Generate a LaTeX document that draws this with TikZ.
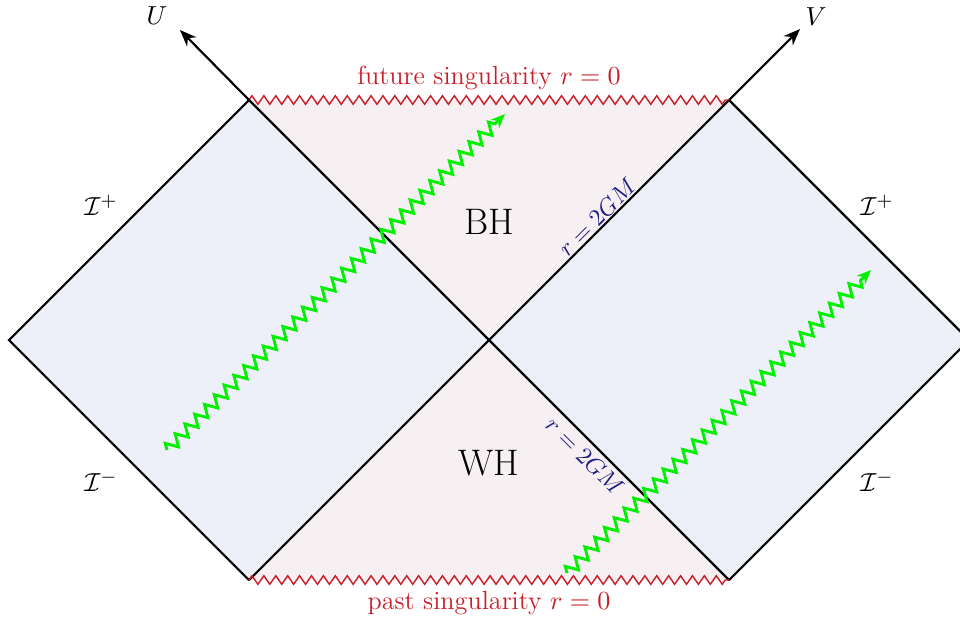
\documentclass[tikz,border=0pt]{standalone}
\usetikzlibrary{decorations.pathmorphing,arrows.meta}
\definecolor{extcol}{RGB}{238,240,249}
\definecolor{bhcol}{RGB}{246,240,242}
\definecolor{singcol}{RGB}{200,30,40}
\definecolor{horcol}{RGB}{30,30,130}
\definecolor{raycol}{RGB}{0,240,0}
\tikzset{
  edge/.style={draw=black, line width=0.9pt},
  sing/.style={draw=singcol, line width=0.6pt, decorate, decoration={zigzag, segment length=5pt, amplitude=1.8pt}},
  ray/.style={draw=raycol, line width=1.2pt, decorate, decoration={zigzag, segment length=5.8pt, amplitude=2.5pt, post length=5pt}, -{Stealth[length=6pt,width=5pt]}},
  axis/.style={draw=black, line width=0.9pt, -{Stealth[length=7pt,width=5.5pt]}},
  lab/.style={font=\fontsize{11}{13}\selectfont},
}
\begin{document}
\begin{tikzpicture}[x=0.42pt,y=-0.42pt]
\useasboundingbox (0,0) rectangle (960,620);
\coordinate (C) at (489,340);
\coordinate (L) at (9,340);
\coordinate (R) at (969,340);
\coordinate (TL) at (249,100);
\coordinate (TR) at (729,100);
\coordinate (BL) at (249,580);
\coordinate (BR) at (729,580);
\coordinate (Uend) at (180,30);
\coordinate (Vend) at (800,29);
\coordinate (g1s) at (167,450);
\coordinate (g1e) at (505,114);
\coordinate (g2s) at (567,573);
\coordinate (g2e) at (871,270);
% fills
\fill[extcol] (L) -- (TL) -- (C) -- (BL) -- cycle;
\fill[extcol] (C) -- (TR) -- (R) -- (BR) -- cycle;
\fill[bhcol] (TL) -- (TR) -- (C) -- cycle;
\fill[bhcol] (BL) -- (BR) -- (C) -- cycle;
% edges
\draw[edge] (BL) -- (L) -- (TL);
\draw[edge] (TR) -- (R) -- (BR);
\draw[edge] (TL) -- (BR);
\draw[edge] (BL) -- (TR);
% singularities
\draw[sing] (TL) -- (TR);
\draw[sing] (BL) -- (BR);
% axes
\draw[axis] (TL) -- (Uend);
\draw[axis] (TR) -- (Vend);
\node[lab] (U) at (157,16) {$U$};
\node[lab] (V) at (816,17) {$V$};
% rays
\draw[ray] (g1s) -- (g1e);
\draw[ray] (g2s) -- (g2e);
% labels
\node[lab, text=singcol] (fs) at (489,78) {future singularity $r=0$};
\node[lab, text=singcol] (ps) at (489,603) {past singularity $r=0$};
\node[font=\fontsize{15.5}{18}\selectfont] (bh) at (489,222) {BH};
\node[font=\fontsize{15.5}{18}\selectfont] (wh) at (489,463) {WH};
\node[text=horcol, rotate=45, inner sep=1pt] (h1) at (597,217) {$r=2GM$};
\node[text=horcol, rotate=-45, inner sep=1pt] (h2) at (585,456) {$r=2GM$};
\node[lab] (ilp) at (101,205) {$\mathcal{I}^+$};
\node[lab] (irp) at (877,205) {$\mathcal{I}^+$};
\node[lab] (ilm) at (101,481) {$\mathcal{I}^-$};
\node[lab] (irm) at (877,481) {$\mathcal{I}^-$};
\end{tikzpicture}
\end{document}
